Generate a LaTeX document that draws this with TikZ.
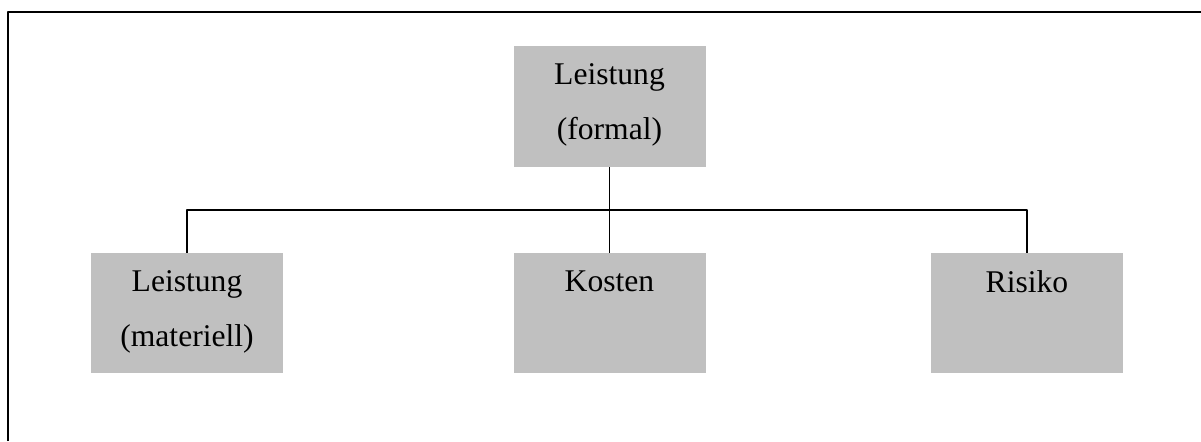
\documentclass[tikz,border=0pt]{standalone}
\usepackage{fontspec}
\setmainfont{Liberation Serif}
\usepackage{tikz}
\usetikzlibrary{positioning}
\definecolor{boxgray}{RGB}{192,192,192}
\tikzset{
        box/.style={fill=boxgray,draw=none,minimum width=96pt,minimum height=60pt,inner sep=0pt},
        lbl/.style={anchor=north,align=center,inner sep=0pt,font=\fontsize{15.8}{27.5}\selectfont},
        link/.style={line width=0.7pt,black},
        frame/.style={line width=1pt,black}
}
\begin{document}
\begin{tikzpicture}[x=0.5pt,y=-0.5pt,join=round] % Leistungsbegriff
        \useasboundingbox (0,0) rectangle (1201,441);
        \draw[frame] (8,441) -- (8,12) -- (1201,12);
        \node[box,minimum height=60.5pt] (formal) at (609.5,106.5) {};
        \node[box] (materiell) at (187,313) {};
        \node[box] (kosten) at (609.5,313) {};
        \node[box] (risiko) at (1027,313) {};
        \node[lbl,below=17.5*0.5pt of formal.north] (formaltxt) {Leistung\\(formal)};
        \node[lbl,below=17.5*0.5pt of materiell.north] (materielltxt) {Leistung\\(materiell)};
        \node[lbl,below=17.5*0.5pt of kosten.north] (kostentxt) {Kosten};
        \node[lbl,below=17.5*0.5pt of risiko.north] (risikotxt) {Risiko};
        \coordinate (bar) at (609.5,210);
        \draw[link] (formal.south) -- (kosten.north);
        \draw[link] (materiell.north) -- (materiell.north |- bar) -- (risiko.north |- bar) -- (risiko.north);
\end{tikzpicture}
\end{document}
